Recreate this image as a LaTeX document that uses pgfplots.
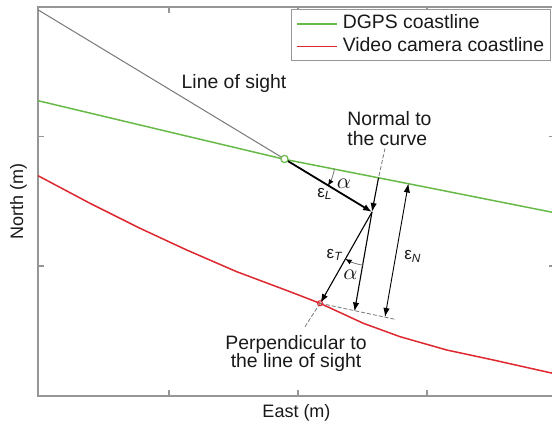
\documentclass[border=0pt]{standalone}
\usepackage{fontspec}
\setmainfont{Liberation Sans}
\usepackage{pgfplots}
\pgfplotsset{compat=1.18}
\usetikzlibrary{arrows.meta}
\definecolor{dgps}{RGB}{104,186,72}
\definecolor{vid}{RGB}{222,40,48}
\definecolor{axgray}{RGB}{150,150,150}
\definecolor{losgray}{RGB}{120,120,120}
\definecolor{txt}{RGB}{25,25,25}
\begin{document}
\begin{tikzpicture}
\begin{axis}[
  name=ax, at={(0,0)}, anchor=south west,
  scale only axis, width=258.5pt, height=194.5pt,
  xmin=38, xmax=555, ymin=30, ymax=419,
  xtick={169,298,427}, ytick={160,289.3},
  xticklabels={}, yticklabels={},
  major tick length=3pt,
  axis line style={axgray, line width=0.6pt},
  every tick/.style={axgray, line width=0.6pt},
  xlabel={East (m)}, ylabel={North (m)},
  xlabel style={at={(axis description cs:0.5,-0.0437)}, anchor=center, font=\fontsize{9}{10}\selectfont, text=txt},
  ylabel style={at={(axis description cs:-0.0377,0.5)}, anchor=center, font=\fontsize{9}{10}\selectfont, text=txt},
  legend style={at={(axis cs:290.7,416.7)}, anchor=north west, draw=axgray, line width=0.6pt,
    font=\fontsize{9.7}{10.5}\selectfont, text=txt, inner xsep=2.5pt, inner ysep=2pt,
    nodes={inner sep=0.5pt, text height=7pt, text depth=2pt}, row sep=1.3pt, column sep=2pt},
  legend cell align=left,
  legend image code/.code={\draw[mark repeat=2,mark phase=2,#1] plot coordinates {(0pt,0pt) (10pt,0pt) (20pt,0pt)};},
]
\addplot[color=dgps, line width=0.75pt] coordinates {(38,325.3) (161,296) (284.5,266.7) (420,240) (555,213.2)};
\addlegendentry{DGPS coastline}
\addplot[color=vid, line width=0.75pt] coordinates {(38,250.3) (90,222.7) (140,197.7) (186.7,176) (236.7,154.3) (290,134.3) (320,122.7) (363.3,102.7) (400,89.3) (446.7,76) (493.3,66) (555,52.2)};
\addlegendentry{Video camera coastline}
% line of sight
\addplot[forget plot, color=losgray, line width=0.5pt] coordinates {(38.3,416) (284.5,267)};
\addplot[forget plot, color=black, line width=0.9pt, -{Latex[length=4.5pt,width=3.4pt]}] coordinates {(284.5,267) (372,214)};
% normal
\addplot[forget plot, color=losgray, line width=0.4pt, dash pattern=on 2pt off 1pt] coordinates {(385,277.5) (378.5,248.1)};
\addplot[forget plot, color=black, line width=0.55pt, -{Latex[length=4.5pt,width=3.2pt]}] coordinates {(378.5,248.1) (372,214)};
\addplot[forget plot, color=black, line width=0.55pt, -{Latex[length=4.5pt,width=3.2pt]}] coordinates {(372,214) (354.5,114.5)};
% eps_T
\addplot[forget plot, color=black, line width=0.55pt, -{Latex[length=4.5pt,width=3.2pt]}] coordinates {(372,214) (320.5,123)};
% eps_N
\addplot[forget plot, color=black, line width=0.45pt, {Latex[length=4.5pt,width=3.2pt]}-{Latex[length=4.5pt,width=3.2pt]}] coordinates {(408.4,242.5) (385,109)};
% dashed tangent and perpendicular
\addplot[forget plot, color=losgray, line width=0.4pt, dash pattern=on 2pt off 1pt] coordinates {(320,122.7) (395,106.7)};
\addplot[forget plot, color=losgray, line width=0.4pt, dash pattern=on 2pt off 1pt] coordinates {(305,99.3) (320,122.7)};
% markers
\addplot[forget plot, color=vid, only marks, mark=o, mark size=1.3pt, mark options={line width=0.5pt}] coordinates {(320,122.7)};
\addplot[forget plot, color=dgps, only marks, mark=*, mark size=1.8pt, mark options={fill=white, draw=dgps, line width=0.6pt}] coordinates {(284.5,267)};
% angle arcs
\draw[losgray, line width=0.4pt, -{Latex[length=3.2pt,width=2.6pt,color=black]}] ([shift={(-11.1:25.5pt)}]axis cs:284.5,267) arc[start angle=-11.1, end angle=-31.8, radius=25.5pt];
\draw[losgray, line width=0.4pt, -{Latex[length=3.2pt,width=2.6pt,color=black]}] ([shift={(260.7:27pt)}]axis cs:372,214) arc[start angle=260.7, end angle=240.3, radius=27pt];
% texts
\node[font=\fontsize{9.7}{10}\selectfont, text=txt] at (axis cs:234,343) {Line of sight};
\node[anchor=west, align=left, font=\fontsize{9.7}{10}\selectfont, text=txt, inner sep=0pt] at (axis cs:347,297) {Normal to\\the curve};
\node[align=center, font=\fontsize{9.7}{9.4}\selectfont, text=txt, inner sep=0pt] at (axis cs:296,72.5) {Perpendicular to\\the line of sight};
\node[font=\fontsize{10.5}{11}\selectfont, text=txt, inner sep=0pt] at (axis cs:344,242.5) {$\alpha$};
\node[font=\fontsize{10.5}{11}\selectfont, text=txt, inner sep=0pt] at (axis cs:350.5,151.5) {$\alpha$};
\node[font=\fontsize{8.5}{9}\selectfont, text=txt, inner sep=0pt] at (axis cs:325,232) {ε\textsubscript{\textit{L}}};
\node[font=\fontsize{8.5}{9}\selectfont, text=txt, inner sep=0pt] at (axis cs:335,171) {ε\textsubscript{\textit{T}}};
\node[font=\fontsize{8.5}{9}\selectfont, text=txt, inner sep=0pt] at (axis cs:413,169.3) {ε\textsubscript{\textit{N}}};
\end{axis}
\pgfresetboundingbox
\path[use as bounding box] ([shift={(-19pt,-15pt)}]ax.south west) rectangle ([shift={(257pt,198pt)}]ax.south west);
\end{tikzpicture}
\end{document}
